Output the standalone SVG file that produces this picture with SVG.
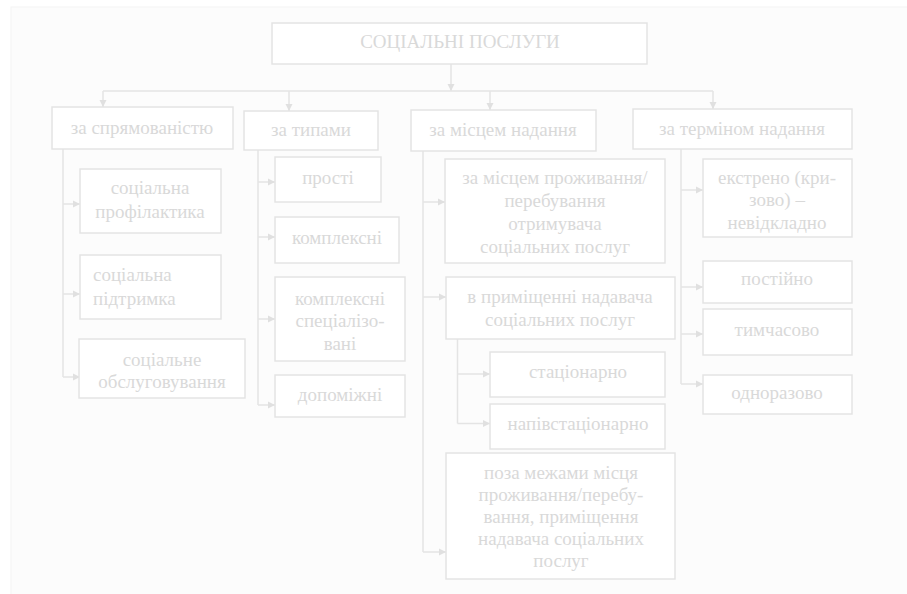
<svg xmlns="http://www.w3.org/2000/svg" width="907" height="594" viewBox="0 0 907 594">
<style>
.box{fill:#ffffff;stroke:#e4e4e4;stroke-width:1.5}
.t{font-family:"Liberation Serif","DejaVu Serif",serif;font-size:19px;fill:#d9d9d9;text-anchor:middle}
.tl{text-anchor:start}
.title{font-size:19px}
.c{fill:none;stroke:#e4e4e4;stroke-width:1.5}
.a{marker-end:url(#ah)}
</style>
<defs>
<marker id="ah" markerUnits="userSpaceOnUse" markerWidth="8" markerHeight="8" refX="7" refY="4" orient="auto">
<path d="M0,0.5 L7,4 L0,7.5 Z" fill="#e0e0e0"/>
</marker>
</defs>
<rect x="11" y="7" width="900" height="590" fill="#fcfcfc" stroke="#f4f4f4" stroke-width="1"/>

<g id="connectors">
<path class="c a" d="M451,64 V91"/>
<path class="c" d="M103,91 H713"/>
<path class="c a" d="M103,91 V107"/>
<path class="c a" d="M289,91 V111"/>
<path class="c a" d="M490,91 V110"/>
<path class="c a" d="M713,91 V109"/>

<path class="c" d="M63,149 V377"/>
<path class="c a" d="M63,204 H80"/>
<path class="c a" d="M63,294 H80"/>
<path class="c a" d="M63,377 H80"/>

<path class="c" d="M258,150 V405"/>
<path class="c a" d="M258,182 H275"/>
<path class="c a" d="M258,237 H275"/>
<path class="c a" d="M258,319 H275"/>
<path class="c a" d="M258,405 H275"/>

<path class="c" d="M423,151 V552"/>
<path class="c a" d="M423,202 H445"/>
<path class="c a" d="M423,297 H446"/>
<path class="c a" d="M423,552 H446"/>

<path class="c" d="M457.5,339 V423.5"/>
<path class="c a" d="M457.5,374 H490"/>
<path class="c a" d="M457.5,423.5 H490"/>

<path class="c" d="M681,149 V384"/>
<path class="c a" d="M681,190 H703"/>
<path class="c a" d="M681,287 H703"/>
<path class="c a" d="M681,334 H703"/>
<path class="c a" d="M681,384 H703"/>
</g>

<g id="root">
<rect class="box" x="272" y="23" width="375" height="41"/>
<text class="t title" x="460" y="48">СОЦІАЛЬНІ ПОСЛУГИ</text>
</g>

<g id="by-direction">
<rect class="box" x="52" y="107" width="181" height="42"/>
<text class="t" x="142" y="134">за спрямованістю</text>
</g>
<g id="by-type">
<rect class="box" x="244" y="111" width="134" height="39"/>
<text class="t" x="311" y="136">за типами</text>
</g>
<g id="by-place">
<rect class="box" x="411" y="110" width="185" height="41"/>
<text class="t" x="503" y="136">за місцем надання</text>
</g>
<g id="by-term">
<rect class="box" x="633" y="109" width="219" height="40"/>
<text class="t" x="742" y="135">за терміном надання</text>
</g>

<g id="prevention">
<rect class="box" x="80" y="169" width="141" height="64"/>
<text class="t" x="150" y="194">соціальна</text>
<text class="t" x="150" y="218">профілактика</text>
</g>
<g id="support">
<rect class="box" x="80" y="255" width="141" height="64"/>
<text class="t tl" x="93" y="281">соціальна</text>
<text class="t tl" x="93" y="305">підтримка</text>
</g>
<g id="service">
<rect class="box" x="79" y="339" width="166" height="59"/>
<text class="t" x="162" y="366">соціальне</text>
<text class="t" x="162" y="388">обслуговування</text>
</g>

<g id="simple">
<rect class="box" x="275" y="157" width="106" height="45"/>
<text class="t" x="328" y="184">прості</text>
</g>
<g id="complex">
<rect class="box" x="275" y="217" width="124" height="46"/>
<text class="t" x="337" y="244">комплексні</text>
</g>
<g id="complex-special">
<rect class="box" x="275" y="277" width="130" height="84"/>
<text class="t" x="340" y="305">комплексні</text>
<text class="t" x="340" y="327">спеціалізо-</text>
<text class="t" x="340" y="350">вані</text>
</g>
<g id="auxiliary">
<rect class="box" x="275" y="375" width="130" height="42"/>
<text class="t" x="340" y="401">допоміжні</text>
</g>

<g id="at-residence">
<rect class="box" x="445" y="159" width="220" height="104"/>
<text class="t" x="555" y="184">за місцем проживання/</text>
<text class="t" x="555" y="207">перебування</text>
<text class="t" x="555" y="230">отримувача</text>
<text class="t" x="555" y="253">соціальних послуг</text>
</g>
<g id="at-provider">
<rect class="box" x="446" y="277" width="229" height="62"/>
<text class="t" x="560" y="303">в приміщенні надавача</text>
<text class="t" x="560" y="326">соціальних послуг</text>
</g>
<g id="inpatient">
<rect class="box" x="490" y="352" width="175" height="45"/>
<text class="t" x="578" y="378">стаціонарно</text>
</g>
<g id="semi-inpatient">
<rect class="box" x="490" y="404" width="175" height="45"/>
<text class="t" x="578" y="430">напівстаціонарно</text>
</g>
<g id="outside">
<rect class="box" x="446" y="453" width="229" height="126"/>
<text class="t" x="561" y="479">поза межами місця</text>
<text class="t" x="561" y="501">проживання/перебу-</text>
<text class="t" x="561" y="523">вання, приміщення</text>
<text class="t" x="561" y="545">надавача соціальних</text>
<text class="t" x="561" y="567">послуг</text>
</g>

<g id="urgent">
<rect class="box" x="703" y="159" width="149" height="78"/>
<text class="t" x="777" y="184">екстрено (кри-</text>
<text class="t" x="777" y="206">зово) –</text>
<text class="t" x="777" y="229">невідкладно</text>
</g>
<g id="permanent">
<rect class="box" x="703" y="261" width="149" height="42"/>
<text class="t" x="777" y="285">постійно</text>
</g>
<g id="temporary">
<rect class="box" x="703" y="309" width="149" height="46"/>
<text class="t" x="777" y="336">тимчасово</text>
</g>
<g id="one-time">
<rect class="box" x="703" y="375" width="149" height="39"/>
<text class="t" x="777" y="399">одноразово</text>
</g>
</svg>
